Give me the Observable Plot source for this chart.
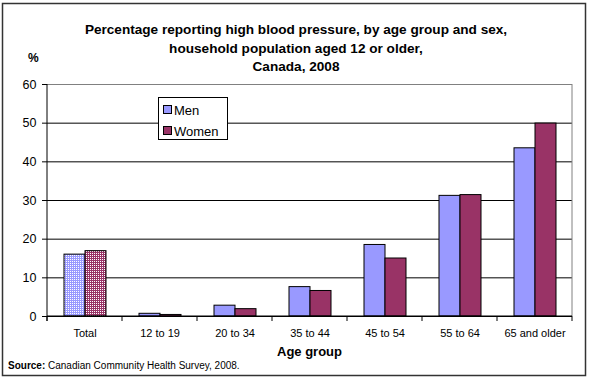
<!DOCTYPE html>
<html><head><meta charset="utf-8">
<script src="https://cdn.jsdelivr.net/npm/d3@7"></script>
<script src="https://cdn.jsdelivr.net/npm/@observablehq/plot@0.6"></script>
<style>
html,body{margin:0;padding:0;background:#fff;}
#chart svg{display:block;}
</style></head><body><div id="chart"></div>
<script>
const ageGroups = ["Total", "12 to 19", "20 to 34", "35 to 44", "45 to 54", "55 to 64", "65 and older"];
const menValues = [16.0, 0.7, 2.8, 7.6, 18.5, 31.2, 43.5];
const womenValues = [16.9, 0.4, 1.9, 6.6, 15.0, 31.4, 49.9];
const sexes = ["Men", "Women"];
const sexColors = ["#9999FF", "#993366"];
const yTicks = [0, 10, 20, 30, 40, 50, 60];
const titleLines = [
  "Percentage reporting high blood pressure, by age group and sex,",
  "household population aged 12 or older,",
  "Canada, 2008"
];
const yUnit = "%";
const xTitle = "Age group";
const sourceLabel = "Source:";
const sourceText = " Canadian Community Health Survey, 2008.";

const rows = ageGroups.flatMap((g, i) => [
  {age: g, sex: "Men", value: menValues[i]},
  {age: g, sex: "Women", value: womenValues[i]}
]);
const plain = rows.filter(d => d.age !== "Total");
const totalMen = rows.filter(d => d.age === "Total" && d.sex === "Men");
const totalWomen = rows.filter(d => d.age === "Total" && d.sex === "Women");

const FONT = "'Liberation Sans', Arial, sans-serif";

const plot = Plot.plot({
  width: 590, height: 381,
  marginTop: 84, marginLeft: 44, marginRight: 15, marginBottom: 65,
  style: {fontFamily: FONT, fontSize: "11px", color: "#000", background: "#fff"},
  fx: {domain: ageGroups, padding: 0, label: null, tickSize: 0, tickPadding: 13, axis: "bottom", round: true},
  x: {domain: sexes, paddingInner: 0, paddingOuter: 0.76, axis: null, round: true},
  y: {domain: [0, 60], ticks: yTicks, tickSize: 5, tickPadding: 6, label: null},
  color: {domain: sexes, range: sexColors},
  marks: [
    Plot.ruleY(yTicks.slice(1, -1), {stroke: "#000"}),
    Plot.ruleY([60], {stroke: "#808080"}),
    Plot.barY(plain, {fx: "age", x: "sex", y: "value", fill: "sex", stroke: "#000", strokeWidth: 1}),
    Plot.barY(totalMen, {fx: "age", x: "sex", y: "value", fill: "url(#patMen)", stroke: "#000", strokeWidth: 1}),
    Plot.barY(totalWomen, {fx: "age", x: "sex", y: "value", fill: "url(#patWomen)", stroke: "#000", strokeWidth: 1}),
    Plot.ruleY([0], {stroke: "#000"})
  ]
});

const svg = d3.select(plot);
svg.selectAll('g[aria-label^="y-axis"] text').attr("font-size", "12.5px");

// patterns for the Total bars (colour with a fine grid of white dots)
const defs = svg.insert("defs", ":first-child");
[["patMen", sexColors[0]], ["patWomen", sexColors[1]]].forEach(([id, c]) => {
  const p = defs.append("pattern").attr("id", id).attr("width", 2).attr("height", 2)
    .attr("patternUnits", "userSpaceOnUse");
  p.append("rect").attr("x", 0).attr("y", 0).attr("width", 2).attr("height", 2).style("fill", c);
  p.append("rect").attr("x", 1).attr("y", 1).attr("width", 1).attr("height", 1).style("fill", "#ffffff");
});

const fx = plot.scale("fx");
const y = plot.scale("y");
const color = plot.scale("color");
const left = fx.apply(ageGroups[0]);
const right = fx.apply(ageGroups[ageGroups.length - 1]) + fx.bandwidth;
const y0 = y.apply(0), yTop = y.apply(60);

const deco = svg.append("g");
deco.append("line").attr("x1", right).attr("x2", right).attr("y1", yTop).attr("y2", y0).attr("stroke", "#808080");
deco.append("line").attr("x1", left).attr("x2", left).attr("y1", yTop).attr("y2", y0 + 5).attr("stroke", "#000");
deco.append("line").attr("x1", left).attr("x2", right).attr("y1", y0).attr("y2", y0).attr("stroke", "#000");
ageGroups.map(g => fx.apply(g)).concat([right]).forEach(x => {
  deco.append("line").attr("x1", x).attr("x2", x).attr("y1", y0).attr("y2", y0 + 5).attr("stroke", "#000");
});

// titles
const cx = 296;
titleLines.forEach((t, i) => {
  svg.append("text").attr("x", cx).attr("y", 34 + i * 18.5).attr("text-anchor", "middle")
    .attr("font-family", FONT).attr("font-size", "13.6px").attr("font-weight", "bold").attr("fill", "#000").text(t);
});
svg.append("text").attr("x", 28).attr("y", 62).attr("text-anchor", "start").attr("font-family", FONT).attr("font-size", "12px")
  .attr("font-weight", "bold").attr("fill", "#000").text(yUnit);
svg.append("text").attr("x", (left + right) / 2).attr("y", 356).attr("text-anchor", "middle")
  .attr("font-family", FONT).attr("font-size", "13px").attr("font-weight", "bold").attr("fill", "#000").text(xTitle);
const src = svg.append("text").attr("x", 8).attr("y", 369).attr("text-anchor", "start")
  .attr("font-family", FONT).attr("font-size", "10px").attr("fill", "#000");
src.append("tspan").attr("font-weight", "bold").text(sourceLabel);
src.append("tspan").text(sourceText);

// legend
const lg = svg.append("g").attr("text-anchor", "start");
lg.append("rect").attr("x", 158.5).attr("y", 97.5).attr("width", 69).attr("height", 42)
  .attr("fill", "#fff").attr("stroke", "#000");
sexes.forEach((s, i) => {
  const yy = 105 + i * 21;
  lg.append("rect").attr("x", 163.5).attr("y", yy + 0.5).attr("width", 8).attr("height", 8)
    .attr("fill", color.apply(s)).attr("stroke", "#000");
  lg.append("text").attr("x", 174).attr("y", yy + 9.5).attr("text-anchor", "start").attr("font-family", FONT).attr("font-size", "13px")
    .attr("fill", "#000").text(s);
});

// outer border
svg.append("rect").attr("x", 2.5).attr("y", 3.5).attr("width", 583).attr("height", 372)
  .attr("fill", "none").attr("stroke", "#333").attr("stroke-width", 1.5);

document.getElementById("chart").appendChild(plot);
</script>
</body></html>
